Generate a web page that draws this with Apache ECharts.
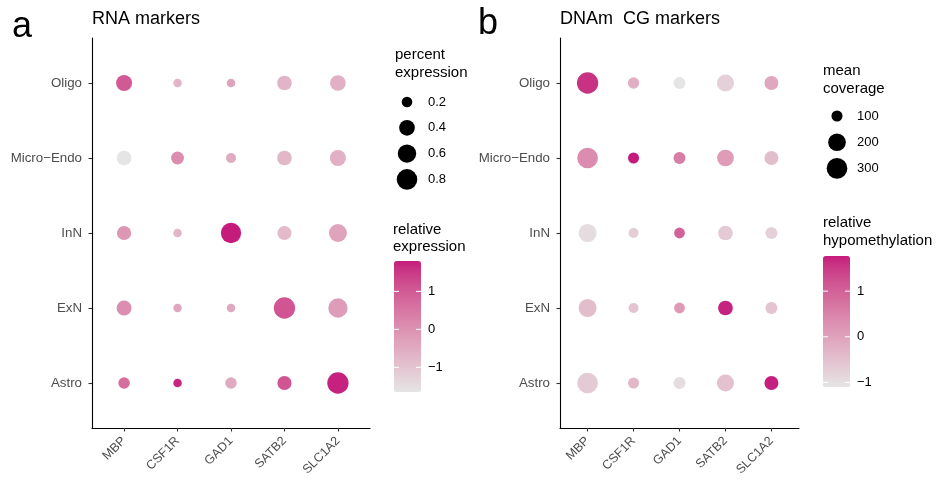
<!DOCTYPE html>
<html>
<head>
<meta charset="utf-8">
<script src="https://cdn.jsdelivr.net/npm/echarts@6/dist/echarts.min.js"></script>
<style>html,body{margin:0;padding:0;background:#fff}#c{width:945px;height:480px}</style>
</head>
<body>
<div id="c"></div>
<script>
// ---- data ----
const genes = ["MBP", "CSF1R", "GAD1", "SATB2", "SLC1A2"];
const cellTypes = ["Astro", "ExN", "InN", "Micro\u2212Endo", "Oligo"]; // bottom -> top
// rows: cellTypes order, cols: genes order
const rnaPercent = [
  [0.22, 0.18, 0.22, 0.32, 0.88],
  [0.36, 0.18, 0.18, 0.88, 0.68],
  [0.32, 0.18, 0.77, 0.31, 0.56],
  [0.34, 0.26, 0.19, 0.34, 0.42],
  [0.42, 0.18, 0.18, 0.34, 0.40]
];
const rnaRelative = [
  [0.65, 1.70, -0.48, 1.09, 1.75],
  [0.08, -0.40, -0.45, 1.09, -0.20],
  [-0.10, -0.70, 1.80, -0.79, -0.35],
  [-1.65, 0.10, -0.50, -0.73, -0.60],
  [1.00, -0.70, -0.35, -0.67, -0.60]
];
const dnamCoverage = [
  [299, 100, 105, 185, 126],
  [212, 98, 99, 137, 105],
  [212, 98, 99, 137, 105],
  [299, 100, 105, 177, 126],
  [322, 101, 105, 185, 126]
];
const dnamRelative = [
  [-0.65, -0.35, -0.95, -0.50, 1.75],
  [-0.45, -0.55, 0.15, 1.72, -0.55],
  [-0.95, -0.70, 1.00, -0.65, -0.75],
  [0.35, 1.77, 0.60, 0.10, -0.45],
  [1.60, -0.20, -1.10, -0.75, -0.10]
];
const pctBreaks = [0.2, 0.4, 0.6, 0.8];
const covBreaks = [100, 200, 300];
const relBreaks = [1, 0, -1];

// ---- helpers ----
function hex2rgb(h){h=h.replace('#','');return [0,2,4].map(i=>parseInt(h.substr(i,2),16));}
function rgb2lab(c){
  let [r,g,b]=c.map(v=>{v/=255;return v<=0.04045?v/12.92:Math.pow((v+0.055)/1.055,2.4);});
  let X=(0.4124564*r+0.3575761*g+0.1804375*b)/0.95047, Y=(0.2126729*r+0.7151522*g+0.0721750*b), Z=(0.0193339*r+0.1191920*g+0.9503041*b)/1.08883;
  const f=t=>t>0.008856?Math.cbrt(t):7.787*t+16/116;
  const fx=f(X),fy=f(Y),fz=f(Z);
  return [116*fy-16,500*(fx-fy),200*(fy-fz)];
}
function lab2rgb([L,a,b]){
  let fy=(L+16)/116, fx=fy+a/500, fz=fy-b/200;
  const fi=t=>t*t*t>0.008856?t*t*t:(t-16/116)/7.787;
  let X=fi(fx)*0.95047,Y=fi(fy),Z=fi(fz)*1.08883;
  let r=3.2404542*X-1.5371385*Y-0.4985314*Z, g=-0.9692660*X+1.8760108*Y+0.0415560*Z, bb=0.0556434*X-0.2040259*Y+1.0572252*Z;
  const toS=v=>{v=v<=0.0031308?12.92*v:1.055*Math.pow(v,1/2.4)-0.055;return Math.max(0,Math.min(255,Math.round(v*255)));};
  return 'rgb('+toS(r)+','+toS(g)+','+toS(bb)+')';
}
function labStops(lo,hi,n){
  const A=rgb2lab(hex2rgb(lo)),B=rgb2lab(hex2rgb(hi));const out=[];
  for(let i=0;i<n;i++){const t=i/(n-1);out.push(lab2rgb([A[0]+(B[0]-A[0])*t,A[1]+(B[1]-A[1])*t,A[2]+(B[2]-A[2])*t]));}
  return out;
}
const stops = labStops('#E5E5E5','#C51B7D',21);

function sizeFn(vmin,vmax,dmin,dmax){return v=>{let t=(v-vmin)/(vmax-vmin);t=Math.max(0,Math.min(1,t));return dmin+(dmax-dmin)*Math.sqrt(t);};}
const rnaSize = sizeFn(0.18, 0.9, 8.5, 21.5);
const covSize = sizeFn(98, 330, 10, 21.5);

function build(pct, rel){
  const d=[];
  for(let r=0;r<cellTypes.length;r++)for(let c=0;c<genes.length;c++)d.push([c,r,rel[r][c],pct[r][c]]);
  return d;
}
const rnaData = build(rnaPercent, rnaRelative);
const dnamData = build(dnamCoverage, dnamRelative);
const flat=a=>a.reduce((x,y)=>x.concat(y),[]);
const rnaMin=Math.min(...flat(rnaRelative)), rnaMax=Math.max(...flat(rnaRelative));
const dnMin=Math.min(...flat(dnamRelative)), dnMax=Math.max(...flat(dnamRelative));

const FONT='Liberation Sans, Arial, sans-serif';
const AXC='#4D4D4D';
function xAx(gi){return {type:'value',gridIndex:gi,min:-0.6,max:4.6,splitLine:{show:false},
  axisLine:{show:true,onZero:false,lineStyle:{color:'#000',width:1.1}},
  axisTick:{show:true,length:3.5,lineStyle:{color:'#333',width:1.1},customValues:[0,1,2,3,4]},
  axisLabel:{customValues:[0,1,2,3,4],formatter:v=>genes[Math.round(v)],rotate:45,color:AXC,fontSize:12.5,fontFamily:FONT,margin:11}};}
function yAx(gi){return {type:'value',gridIndex:gi,min:-0.6,max:4.6,splitLine:{show:false},
  axisLine:{show:true,onZero:false,lineStyle:{color:'#000',width:1.1}},
  axisTick:{show:true,length:3.5,lineStyle:{color:'#333',width:1.1},customValues:[0,1,2,3,4]},
  axisLabel:{customValues:[0,1,2,3,4],formatter:v=>cellTypes[Math.round(v)],color:AXC,fontSize:13.3,fontFamily:FONT,margin:10}};}

// legends
const graphics=[];
function txt(x,y,s,size,opts){graphics.push(Object.assign({type:'text',x:x,y:y,style:{text:s,fontSize:size,fontFamily:FONT,fill:'#000',textVerticalAlign:'middle'}},opts||{}));}
txt(12,27,'a',36);
txt(92,19,'RNA markers',18);
txt(478,24,'b',36);
txt(560,19,'DNAm  CG markers',18);
// size legend left
txt(395,55,'percent',15);txt(395,73,'expression',15);
pctBreaks.forEach((v,i)=>{const y=102+i*25.8;graphics.push({type:'circle',shape:{cx:407,cy:y,r:rnaSize(v)/2},style:{fill:'#000'}});txt(428,y,String(v),13);});
// size legend right
txt(823,71,'mean',15);txt(823,89,'coverage',15);
covBreaks.forEach((v,i)=>{const y=116+i*26.2;graphics.push({type:'circle',shape:{cx:837,cy:y,r:covSize(v)/2},style:{fill:'#000'}});txt(857,y,String(v),13);});
// colorbar titles
txt(393,230,'relative',15);txt(393,247,'expression',15);
txt(823,223,'relative',15);txt(823,241,'hypomethylation',15);
function cbTicks(left,top,w,h,mn,mx){
  relBreaks.forEach(v=>{const y=top+(mx-v)/(mx-mn)*h;
    graphics.push({type:'line',shape:{x1:left,y1:y,x2:left+5,y2:y},style:{stroke:'#fff',lineWidth:1},z:100});
    graphics.push({type:'line',shape:{x1:left+w-5,y1:y,x2:left+w,y2:y},style:{stroke:'#fff',lineWidth:1},z:100});
    txt(left+w+7,y,v<0?'\u2212'+Math.abs(v):String(v),13);
  });
}
const CB1={left:394,top:261,w:27,h:131}, CB2={left:823,top:256,w:27,h:131};
cbTicks(CB1.left,CB1.top,CB1.w,CB1.h,rnaMin,rnaMax);
cbTicks(CB2.left,CB2.top,CB2.w,CB2.h,dnMin,dnMax);

const chart=echarts.init(document.getElementById('c'),null,{renderer:'canvas'});
chart.setOption({
  animation:false,
  backgroundColor:'#fff',
  grid:[{left:92,top:38,width:278,height:390},{left:560,top:38,width:239,height:390}],
  xAxis:[xAx(0),xAx(1)],
  yAxis:[yAx(0),yAx(1)],
  visualMap:[
    {type:'continuous',seriesIndex:0,dimension:2,min:rnaMin,max:rnaMax,inRange:{color:stops},calculable:false,text:null,
     itemWidth:CB1.w,itemHeight:CB1.h,left:CB1.left,top:CB1.top,padding:0,showLabel:false,hoverLink:false},
    {type:'continuous',seriesIndex:1,dimension:2,min:dnMin,max:dnMax,inRange:{color:stops},calculable:false,text:null,
     itemWidth:CB2.w,itemHeight:CB2.h,left:CB2.left,top:CB2.top,padding:0,showLabel:false,hoverLink:false}
  ],
  series:[
    {type:'scatter',xAxisIndex:0,yAxisIndex:0,data:rnaData,symbolSize:v=>rnaSize(v[3]),itemStyle:{opacity:1}},
    {type:'scatter',xAxisIndex:1,yAxisIndex:1,data:dnamData,symbolSize:v=>covSize(v[3]),itemStyle:{opacity:1}}
  ],
  graphic:graphics
});
</script>
</body>
</html>
